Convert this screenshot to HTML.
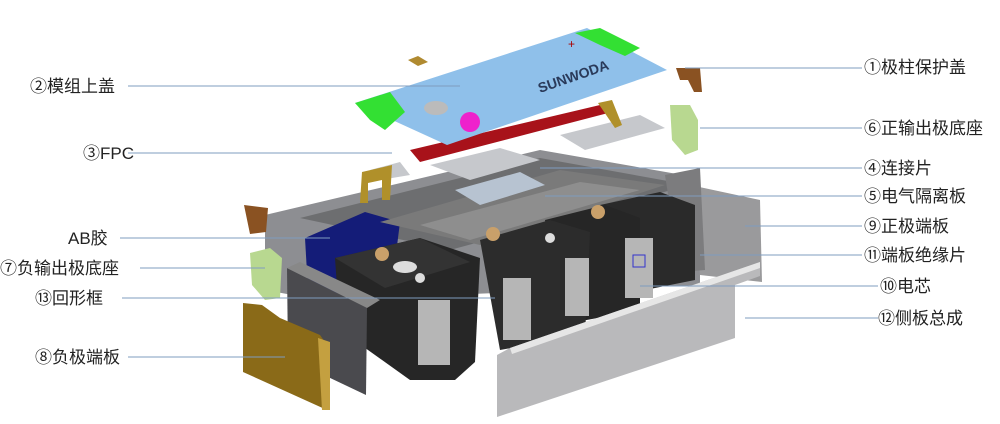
<!DOCTYPE html><html><head><meta charset="utf-8"><style>
body{margin:0;background:#fff;width:1000px;height:424px;overflow:hidden}
svg{display:block}
text{font-family:"Liberation Sans","Noto Sans CJK SC",sans-serif;font-size:17px;fill:#222}
</style></head><body>
<svg width="1000" height="424" viewBox="0 0 1000 424">
<!-- back tray -->
<polygon points="265,215 540,150 700,178 700,285 320,300 265,290" fill="#8d8e92"/>
<polygon points="300,218 540,158 690,185 450,250" fill="#6d6e70"/>
<!-- AB glue -->
<polygon points="305,238 365,212 400,222 395,262 340,295 308,290" fill="#141c78"/>
<!-- separator plate -->
<polygon points="380,222 560,170 665,185 480,245" fill="#7a7a7a"/>
<polygon points="420,225 580,182 640,190 470,240" fill="#8e8e8e"/>
<!-- right back end plate -->
<polygon points="690,185 760,200 762,282 700,275" fill="#9a9a9c"/>
<polygon points="665,175 700,168 705,270 680,272" fill="#7c7c7e"/>
<!-- cells -->
<polygon points="600,205 660,192 695,205 695,280 620,295" fill="#2a2a2a"/>
<polygon points="545,220 605,205 640,218 640,310 560,325" fill="#262626"/>
<polygon points="480,240 550,220 590,232 585,335 500,350" fill="#2c2c2c"/>
<polygon points="335,258 420,238 480,258 475,362 455,380 410,380 340,330" fill="#262626"/>
<polygon points="335,258 420,238 470,262 385,288" fill="#333"/>
<rect x="418" y="300" width="32" height="65" fill="#b6b6b6"/>
<rect x="503" y="278" width="28" height="62" fill="#b6b6b6"/>
<rect x="565" y="258" width="24" height="58" fill="#b6b6b6"/>
<rect x="625" y="238" width="28" height="60" fill="#b6b6b6"/>
<rect x="633" y="255" width="12" height="12" fill="none" stroke="#3333cc"/>
<circle cx="382" cy="254" r="7" fill="#c9a06a"/><circle cx="493" cy="234" r="7" fill="#c9a06a"/>
<circle cx="598" cy="212" r="7" fill="#c9a06a"/><circle cx="550" cy="238" r="5" fill="#ddd"/>
<circle cx="420" cy="278" r="5" fill="#ddd"/><ellipse cx="405" cy="267" rx="12" ry="6" fill="#ddd"/>
<!-- connecting pieces -->
<polygon points="430,165 500,148 540,160 470,180" fill="#c6c8cc"/>
<polygon points="560,135 640,115 665,128 585,150" fill="#c6c8cc"/>
<polygon points="455,190 520,172 545,185 480,205" fill="#b7c3d1"/>
<polygon points="370,170 400,162 410,175 380,180" fill="#c6c8cc"/>
<!-- FPC red -->
<polygon points="410,150 600,105 612,112 420,162" fill="#a8121a"/>
<!-- gold brackets -->
<polygon points="362,172 392,165 390,200 382,200 382,180 368,183 368,203 360,203" fill="#b0902a"/>
<polygon points="598,103 612,100 622,125 615,128" fill="#b0902a"/>
<!-- top cover -->
<polygon points="355,103 587,28 667,70 447,145" fill="#8fc0ea"/>
<polygon points="355,103 390,92 405,112 385,130 370,120" fill="#33e033"/>
<polygon points="575,33 600,28 640,48 625,56 600,45" fill="#33e033"/>
<circle cx="470" cy="122" r="10" fill="#ee22cc"/>
<ellipse cx="436" cy="108" rx="12" ry="7" fill="#bbb"/>
<text x="540" y="93" transform="rotate(-19 540 93)" style="font-size:14px;fill:#2a3a5a;font-weight:bold">SUNWODA</text>
<text x="568" y="48" style="font-size:12px;fill:#a00">+</text>
<!-- small gold square -->
<polygon points="408,60 418,56 428,62 418,66" fill="#b08a30"/>
<!-- brown caps -->
<polygon points="676,68 700,68 702,92 694,92 688,80 680,80" fill="#8a5222"/>
<polygon points="244,205 268,208 266,232 250,234" fill="#8a5222"/>
<!-- green bases -->
<polygon points="670,105 690,105 698,120 698,150 685,155 672,140" fill="#b8d890"/>
<polygon points="250,253 270,248 282,258 280,298 265,300 252,285" fill="#b8d890"/>
<!-- 回形框 plate -->
<polygon points="287,268 367,308 366,395 288,358" fill="#4a4a4e"/>
<polygon points="287,268 300,262 380,300 367,308" fill="#888"/>
<!-- negative end plate -->
<polygon points="243,303 262,305 280,318 320,335 327,345 327,410 243,372" fill="#8a6a18"/>
<polygon points="318,338 330,342 330,410 322,410" fill="#c4a040"/>
<!-- side plate -->
<polygon points="510,348 760,262 760,276 735,285 735,338 497,417 497,355" fill="#b9b9bb"/>
<polygon points="510,348 760,262 760,268 512,354" fill="#e6e6e6"/>
<!-- leader lines -->
<g stroke="#7f9cbf" stroke-width="1">
<line x1="128" y1="86" x2="460" y2="86"/>
<line x1="128" y1="153" x2="392" y2="153"/>
<line x1="120" y1="238" x2="330" y2="238"/>
<line x1="140" y1="268" x2="265" y2="268"/>
<line x1="122" y1="298" x2="495" y2="298"/>
<line x1="128" y1="357" x2="285" y2="357"/>
<line x1="685" y1="68" x2="862" y2="68"/>
<line x1="700" y1="128" x2="862" y2="128"/>
<line x1="540" y1="168" x2="862" y2="168"/>
<line x1="545" y1="196" x2="862" y2="196"/>
<line x1="745" y1="226" x2="862" y2="226"/>
<line x1="700" y1="255" x2="862" y2="255"/>
<line x1="640" y1="286" x2="878" y2="286"/>
<line x1="745" y1="318" x2="878" y2="318"/>
</g>
<text x="30" y="92">②模组上盖</text>
<text x="83" y="159">③FPC</text>
<text x="68" y="244">AB胶</text>
<text x="0" y="274">⑦负输出极底座</text>
<text x="35" y="304">⑬回形框</text>
<text x="35" y="363">⑧负极端板</text>
<text x="864" y="73">①极柱保护盖</text>
<text x="864" y="134">⑥正输出极底座</text>
<text x="864" y="174">④连接片</text>
<text x="864" y="202">⑤电气隔离板</text>
<text x="864" y="232">⑨正极端板</text>
<text x="864" y="261">⑪端板绝缘片</text>
<text x="880" y="292">⑩电芯</text>
<text x="878" y="324">⑫侧板总成</text>
</svg></body></html>
